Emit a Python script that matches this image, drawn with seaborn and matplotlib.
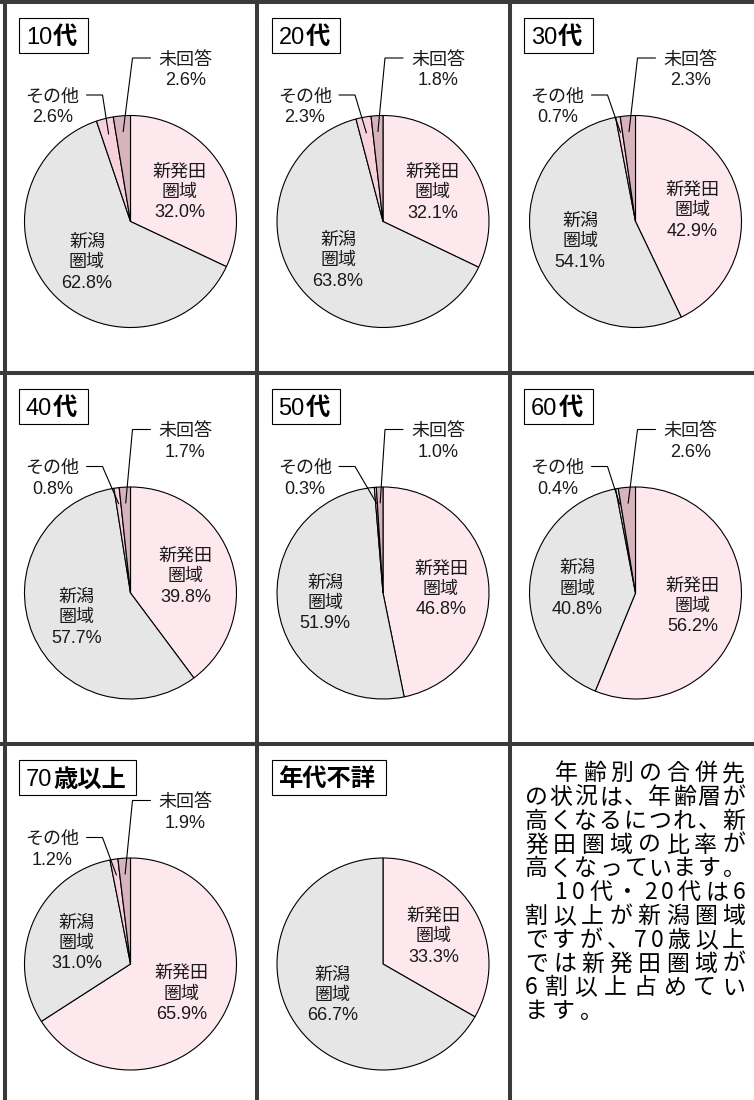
import numpy as np
import matplotlib
matplotlib.use("Agg")
import matplotlib.pyplot as plt
from matplotlib.patches import Rectangle
import seaborn as sns

sns.set_theme(style="white")
plt.rcParams["font.family"] = ["Liberation Sans", "Noto Sans CJK JP", "DejaVu Sans"]

# データ（年代別の合併先）
title_num = ["10", "20", "30", "40", "50", "60", "70", ""]
title_jp = ["代", "代", "代", "代", "代", "代", "歳以上", "年代不詳"]
shibata = [32.0, 32.1, 42.9, 39.8, 46.8, 56.2, 65.9, 33.3]
niigata = [62.8, 63.8, 54.1, 57.7, 51.9, 40.8, 31.0, 66.7]
sonota = [2.6, 2.3, 0.7, 0.8, 0.3, 0.4, 1.2, 0.0]
mikaito = [2.6, 1.8, 2.3, 1.7, 1.0, 2.6, 1.9, 0.0]
labels = [["新発田", "圏域"], ["新潟", "圏域"], ["その他"], ["未回答"]]
colors = sns.color_palette(["#FDE8EE", "#E6E6E6", "#F7D2DC", "#D6B3BD"])

body_lines = ["　年齢別の合併先", "の状況は、年齢層が", "高くなるにつれ、新",
              "発田圏域の比率が", "高くなっています。", "　10代・20代は6",
              "割以上が新潟圏域", "ですが、70歳以上", "では新発田圏域が",
              "6割以上占めてい", "ます。"]

W, H = 754, 1100
col_x = [4.5, 257, 509.5]
row_y = [1.5, 373, 744]
R = 106
LBL = 13
BODY = 16.5
TXT = "#1a1a1a"


def Y(y):
    return H - y


fig = plt.figure(figsize=(7.54, 11), dpi=100)
ax = fig.add_axes([0, 0, 1, 1])
ax.set_xlim(0, W)
ax.set_ylim(0, H)
ax.set_autoscale_on(False)
ax.set_axis_off()
renderer = fig.canvas.get_renderer()


def lines_text(x, y_center, lines, ha="center", size=LBL):
    # 複数行を一定の行送りで描く
    em = size * 100 / 72
    pitch = 20.5
    n = len(lines)
    out = []
    for j, s in enumerate(lines):
        yc = y_center + (j - (n - 1) / 2) * pitch
        t = ax.text(x, Y(yc + 0.37 * em), s, fontsize=size, ha=ha,
                    va="baseline", color=TXT, zorder=5)
        out.append(t)
    return out


for i in range(8):
    r, c = divmod(i, 3)
    x0, y0 = col_x[c], row_y[r]
    cx, cy = x0 + 126, y0 + 220
    vals = [shibata[i], niigata[i], sonota[i], mikaito[i]]
    keep = [k for k in range(4) if vals[k] > 0]
    wedges, _ = ax.pie([vals[k] for k in keep],
                       colors=[colors[k] for k in keep],
                       startangle=90, counterclock=False,
                       center=(cx, Y(cy)), radius=R, frame=True,
                       wedgeprops=dict(edgecolor="black", linewidth=0.8))

    for w, k in zip(wedges, keep):
        mid = np.deg2rad((w.theta1 + w.theta2) / 2)
        pct = f"{vals[k]:.1f}%"
        if k < 2:
            px = cx + 0.55 * R * np.cos(mid)
            py = cy - 0.55 * R * np.sin(mid)
            lines_text(px, py, labels[k] + [pct])
        else:
            ex = cx + 0.85 * R * np.cos(mid)
            ey = cy - 0.85 * R * np.sin(mid)
            if k == 2:
                lx, ly = x0 + 48, y0 + 93.5
            else:
                lx, ly = x0 + 181, y0 + 56.5
            ts = lines_text(lx, ly + 10.25, labels[k] + [pct])
            bb = ts[0].get_window_extent(renderer)
            if k == 2:
                sx = bb.x1 + 7
                kx = sx + 16
            else:
                sx = bb.x0 - 8
                kx = sx - 18
            ax.plot([sx, kx, ex], [Y(ly), Y(ly), Y(ey)], color="black",
                    lw=0.8, zorder=4, solid_joinstyle="miter")

    # タイトルの枠
    bx, by = x0 + 14.5, y0 + 16
    base = Y(by + 17.5 + 0.37 * 24)
    xr = bx + 7
    if title_num[i]:
        t1 = ax.text(xr, base, title_num[i], fontsize=17, ha="left",
                     va="baseline", color="black", zorder=6)
        xr = t1.get_window_extent(renderer).x1 + 1
    t2 = ax.text(xr, base, title_jp[i], fontsize=17.5, fontweight="bold",
                 ha="left", va="baseline", color="black", zorder=6,
                 family=["Noto Sans CJK JP", "DejaVu Sans"])
    xr = t2.get_window_extent(renderer).x1 + 10
    ax.add_patch(Rectangle((bx, Y(by + 35)), xr - bx, 35, facecolor="white",
                           edgecolor="black", lw=0.8, zorder=5.5))

# 本文（均等割付）
em = BODY * 100 / 72
left, right = 525, 745
for j, line in enumerate(body_lines):
    yc = 771.7 + j * 23.8
    xl = left
    chars = list(line)
    if chars[0] == "　":
        chars = chars[1:]
        xl = left + 30
    ws = []
    for ch in chars:
        t = ax.text(0, 0, ch, fontsize=BODY, family=["Noto Sans CJK JP"])
        ws.append(t.get_window_extent(renderer).width)
        t.remove()
    if j == len(body_lines) - 1:
        gap = 4
    else:
        gap = (right - xl - sum(ws)) / (len(chars) - 1)
    x = xl
    for ch, w in zip(chars, ws):
        ax.text(x, Y(yc + 0.37 * em), ch, fontsize=BODY, ha="left",
                va="baseline", color="black", family=["Noto Sans CJK JP"])
        x += w + gap

# 枠線
grid = "#3a3a3a"
for gx in col_x:
    ax.plot([gx, gx], [0, H], color=grid, lw=2.9, solid_capstyle="butt", zorder=7)
for gy in row_y:
    ax.plot([0, W], [Y(gy), Y(gy)], color=grid, lw=2.9, solid_capstyle="butt", zorder=7)

ax.set_xlim(0, W)
ax.set_ylim(0, H)
fig.savefig("out.png", dpi=100, facecolor="white")
